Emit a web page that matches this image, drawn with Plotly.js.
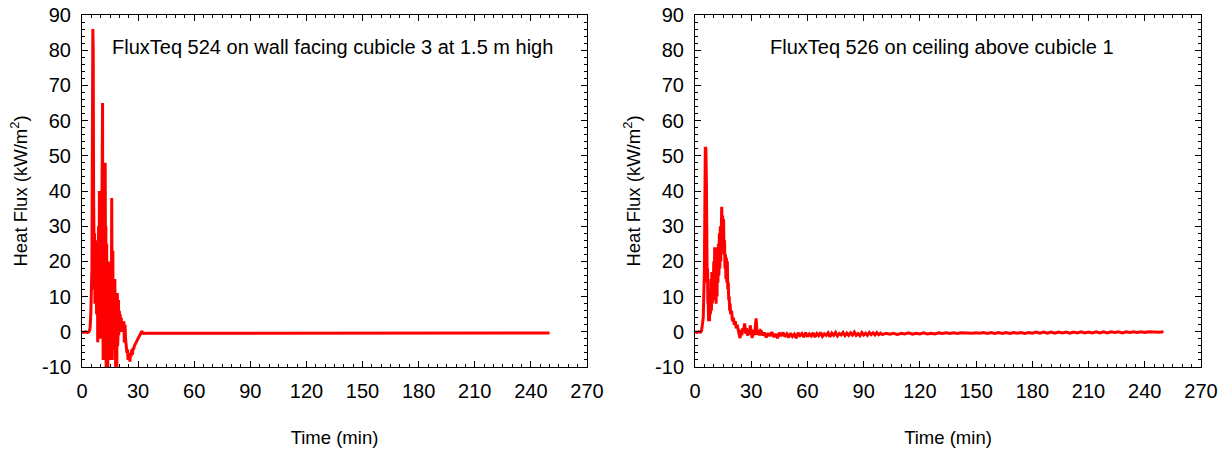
<!DOCTYPE html>
<html>
<head>
<meta charset="utf-8">
<script src="https://cdn.plot.ly/plotly-3.0.1.min.js"></script>
<style>html,body{margin:0;padding:0;background:#fff;}#chart{width:1222px;height:451px;}</style>
</head>
<body>
<div id="chart"></div>
<script>
// Left panel: FluxTeq 524 (time in min, heat flux in kW/m2)
const leftTime = [0, 1, 2, 3, 3.8, 4.3, 4.7, 5.0, 5.3, 5.6, 5.8, 6.0, 6.2, 6.4, 6.6, 6.75, 6.9, 7.05, 7.2, 7.35, 7.5, 7.65, 7.8, 7.95, 8.1, 8.25, 8.4, 8.55, 8.7, 8.85, 9.0, 9.15, 9.3, 9.5, 9.65, 9.8, 9.95, 10.1, 10.25, 10.4, 10.55, 10.7, 11.0, 11.15, 11.3, 11.5, 11.65, 11.8, 11.95, 12.1, 12.4, 12.6, 12.75, 12.9, 13.05, 13.2, 13.35, 13.5, 13.65, 13.8, 13.95, 14.1, 14.25, 14.4, 14.55, 14.7, 14.85, 15.0, 15.15, 15.3, 15.45, 15.6, 15.9, 16.05, 16.2, 16.35, 16.5, 16.65, 16.8, 16.95, 17.1, 17.25, 17.4, 17.55, 17.7, 17.85, 18.0, 18.15, 18.3, 18.45, 18.6, 18.75, 18.9, 19.05, 19.2, 19.35, 19.5, 19.65, 19.8, 20.0, 20.2, 20.4, 20.6, 20.8, 21.0, 21.2, 21.4, 21.6, 21.8, 22.0, 22.2, 22.4, 22.6, 22.8, 23.0, 23.3, 23.6, 24.0, 24.3, 24.6, 25.0, 25.3, 25.6, 26.0, 26.3, 26.6, 27.0, 27.3, 27.6, 28.0, 28.5, 29.0, 29.5, 30.0, 30.5, 31.0, 31.5, 32.0, 32.5, 33.0, 34, 35, 40, 50, 60, 70, 80, 90, 100, 110, 120, 130, 140, 150, 160, 170, 180, 190, 200, 210, 220, 230, 240, 250];
const leftFlux = [0, -0.2, 0, -0.2, 0, 1, 5, 10, 18, 60, 86, 80, 40, 20, 12, 28, 8, 20, 10, 26, 6, 22, 5, 18, 10, 24, -3, 14, 12, 30, 20, 8, 40, 5, 25, -2, 12, 30, 2, 15, 40, 55, 65, 10, -8, 20, 35, -5, 15, 30, 48, 10, 30, -10, 18, 25, -5, 5, 20, -10, 10, 15, -6, -3, 18, 10, -4, 2, 14, 20, -8, -5, 38, 5, -8, 15, 23, -5, -2, 10, 12, -3, -5, 15, 10, -8, -10, 6, 8, -6, -10, 5, 11, -4, -2, 6, 9, -1, 3, 6, 1, 5, 0, 4, 4, 0, 1, 3, 3, 0, 2, 3, -3, 1, 2, -2, -4, -6, -5, -8, -7, -6, -8.5, -6, -7, -5, -6.5, -4.5, -5, -4, -3.5, -3, -2.5, -2, -1.5, -1, -0.3, 0.2, -0.4, -0.5, -0.4, -0.4, -0.4, -0.4, -0.4, -0.35, -0.4, -0.35, -0.4, -0.35, -0.4, -0.35, -0.4, -0.35, -0.4, -0.35, -0.4, -0.35, -0.4, -0.35, -0.4, -0.35, -0.4, -0.35];

// Right panel: FluxTeq 526
const rightTime = [0, 1, 2, 3, 3.5, 4.0, 4.4, 5.0, 5.3, 5.5, 5.8, 6.1, 6.3, 6.5, 6.7, 6.85, 7.0, 7.25, 7.5, 7.75, 8.0, 8.25, 8.5, 8.75, 9.0, 9.25, 9.5, 9.75, 10.0, 10.25, 10.5, 10.75, 11.0, 11.25, 11.5, 11.75, 12.0, 12.25, 12.5, 12.75, 13.0, 13.25, 13.5, 13.75, 14.0, 14.25, 14.5, 14.75, 15.0, 15.25, 15.5, 15.75, 16.0, 16.25, 16.5, 16.75, 17.0, 17.25, 17.5, 17.75, 18.0, 18.25, 18.5, 18.75, 19.0, 19.5, 20.0, 20.5, 21.0, 21.5, 22.0, 22.5, 23.0, 23.5, 24.0, 24.5, 25.0, 25.5, 26.0, 26.5, 27.0, 27.5, 28.0, 28.5, 29.0, 29.5, 30.0, 30.5, 31.0, 31.5, 32.0, 32.6, 33.2, 33.8, 34.4, 35.0, 35.6,
  36, 37, 38, 39, 40, 41, 42, 43, 44, 45, 46, 47, 48, 49, 50, 51, 52, 53, 54, 55, 56, 57, 58, 59, 60, 61, 62, 63, 64, 65, 66, 67, 68, 69, 70, 71, 72, 73, 74, 75, 76, 77, 78, 79, 80, 81, 82, 83, 84, 85, 86, 87, 88, 89, 90, 91, 92, 93, 94, 95, 96, 97, 98, 99, 100,
  102, 104, 106, 108, 110, 112, 114, 116, 118, 120, 122, 124, 126, 128, 130, 132, 134, 136, 138, 140, 142, 144, 146, 148, 150, 152, 154, 156, 158, 160, 162, 164, 166, 168, 170, 172, 174, 176, 178, 180, 182, 184, 186, 188, 190, 192, 194, 196, 198, 200, 202, 204, 206, 208, 210, 212, 214, 216, 218, 220, 222, 224, 226, 228, 230, 232, 234, 236, 238, 240, 242, 244, 246, 248, 250];
const rightFlux = [0, -0.2, 0, -0.1, 0.3, 2, 4, 17, 40, 52.5, 52, 42, 22, 14, 18, 8, 10, 3, 6, 3, 12, 5, 15, 6, 17, 8, 12, 9, 20, 10, 24, 12, 22, 8, 18, 10, 24, 14, 25, 16, 28, 18, 30, 20, 34, 35.5, 28, 33, 24, 32, 22, 26, 18, 22, 15, 21, 14, 20, 12, 14, 9, 10, 6, 8, 5, 6, 3, 4, 2, 3, 1, 2, 0.7, -0.5, -1.8, 0.5, -1, 1, 0.5, 2.4, -0.5, 1, -1.1, 0.5, -0.8, 1.8, 0, -1.8, 0.5, -1, 0.3, 3.8, -0.9, 0.5, -1, 0.3, 0,
  -1, -0.2, -1.6, -0.4, -1.2, -0.1, -1.5, -0.6, -1.8, -0.3, -1.2, -0.2, -1.4, -0.6, -1.6, -0.4, -1.3, -0.7, -1.8, -0.3, -1.1, -0.5, -1.5, -0.2, -1.4, -0.6, -1.2, -0.3, -1.5, -0.5, -1.1, -0.2, -1.3, -0.6, -1.0, -0.3, -1.4, -0.4, -1.0, -0.2, -1.2, -0.5, -0.9, -0.2, -1.1, -0.4, -1.0, -0.3, -0.9, -0.1, -1.0, -0.5, -1.1, -0.2, -0.9, -0.4, -1.0, -0.2, -0.8, -0.3, -0.9, -0.2, -0.8, -0.4, -0.8,
  -0.4, -0.7, -0.4, -0.8, -0.4, -0.6, -0.3, -0.7, -0.4, -0.6, -0.3, -0.6, -0.4, -0.6, -0.3, -0.5, -0.3, -0.5, -0.3, -0.5, -0.3, -0.4, -0.3, -0.4, -0.3, -0.4, -0.2, -0.5, -0.2, -0.5, -0.2, -0.5, -0.2, -0.5, -0.2, -0.4, -0.2, -0.5, -0.2, -0.4, -0.1, -0.4, -0.1, -0.4, -0.1, -0.4, -0.1, -0.3, -0.1, -0.4, -0.1, -0.3, 0.0, -0.3, -0.1, -0.3, 0.0, -0.3, 0.0, -0.3, 0.0, -0.2, 0.0, -0.3, 0.0, -0.2, 0.0, -0.2, 0.0, -0.2, 0.0, -0.1, 0.0, -0.1, 0.0];

const panelTitles = ["FluxTeq 524 on wall facing cubicle 3 at 1.5 m high", "FluxTeq 526 on ceiling above cubicle 1"];
const xTickVals = [0, 30, 60, 90, 120, 150, 180, 210, 240, 270];
const yTickVals = [-10, 0, 10, 20, 30, 40, 50, 60, 70, 80, 90];
const xTitle = "Time (min)";
const yTitle = "Heat Flux (kW/m<sup>2</sup>)";

const FONT = "Liberation Sans, Arial, sans-serif";

function xAxis(domain, anchor) {
  return {
    domain: domain, anchor: anchor, range: [0, 270],
    tickmode: 'array', tickvals: xTickVals, ticktext: xTickVals.map(String),
    ticks: 'inside', ticklen: 6, tickwidth: 1, tickcolor: '#000',
    minor: {dtick: 5, ticks: 'inside', ticklen: 3, tickcolor: '#000', tickwidth: 1},
    showline: true, linecolor: '#000', linewidth: 1, mirror: 'allticks',
    showgrid: false, zeroline: false, ticklabelstandoff: 6,
    tickfont: {family: FONT, size: 20, color: '#000'},
    title: {text: xTitle, font: {family: FONT, size: 18.5, color: '#000'}, standoff: 30}
  };
}
function yAxis(domain, anchor) {
  return {
    domain: domain, anchor: anchor, range: [-10, 90],
    tickmode: 'array', tickvals: yTickVals, ticktext: yTickVals.map(String),
    ticks: 'inside', ticklen: 6, tickwidth: 1, tickcolor: '#000',
    minor: {dtick: 2, ticks: 'inside', ticklen: 3, tickcolor: '#000', tickwidth: 1},
    showline: true, linecolor: '#000', linewidth: 1, mirror: 'allticks',
    showgrid: false, zeroline: false, ticklabelstandoff: 6,
    tickfont: {family: FONT, size: 20, color: '#000'},
    title: {text: yTitle, font: {family: FONT, size: 18.5, color: '#000'}, standoff: 9}
  };
}

const yDom = [1 - 367/451, 1 - 15/451];
const traces = [
  {x: leftTime, y: leftFlux, xaxis: 'x', yaxis: 'y', type: 'scatter', mode: 'lines',
   line: {color: '#ff0000', width: 3}, showlegend: false},
  {x: rightTime, y: rightFlux, xaxis: 'x2', yaxis: 'y2', type: 'scatter', mode: 'lines',
   line: {color: '#ff0000', width: 3}, showlegend: false}
];
const layout = {
  width: 1222, height: 451,
  margin: {l: 0, r: 0, t: 0, b: 0},
  paper_bgcolor: '#fff', plot_bgcolor: '#fff',
  xaxis: xAxis([82/1222, 587/1222], 'y'),
  yaxis: yAxis(yDom, 'x'),
  xaxis2: xAxis([695/1222, 1201/1222], 'y2'),
  yaxis2: yAxis(yDom, 'x2'),
  annotations: [
    {xref: 'x', yref: 'y', x: 134, y: 81, text: panelTitles[0], showarrow: false,
     font: {family: FONT, size: 20, color: '#000'}},
    {xref: 'x2', yref: 'y2', x: 132, y: 81, text: panelTitles[1], showarrow: false,
     font: {family: FONT, size: 20, color: '#000'}}
  ]
};
Plotly.newPlot('chart', traces, layout, {displayModeBar: false, staticPlot: true});
</script>
</body>
</html>
